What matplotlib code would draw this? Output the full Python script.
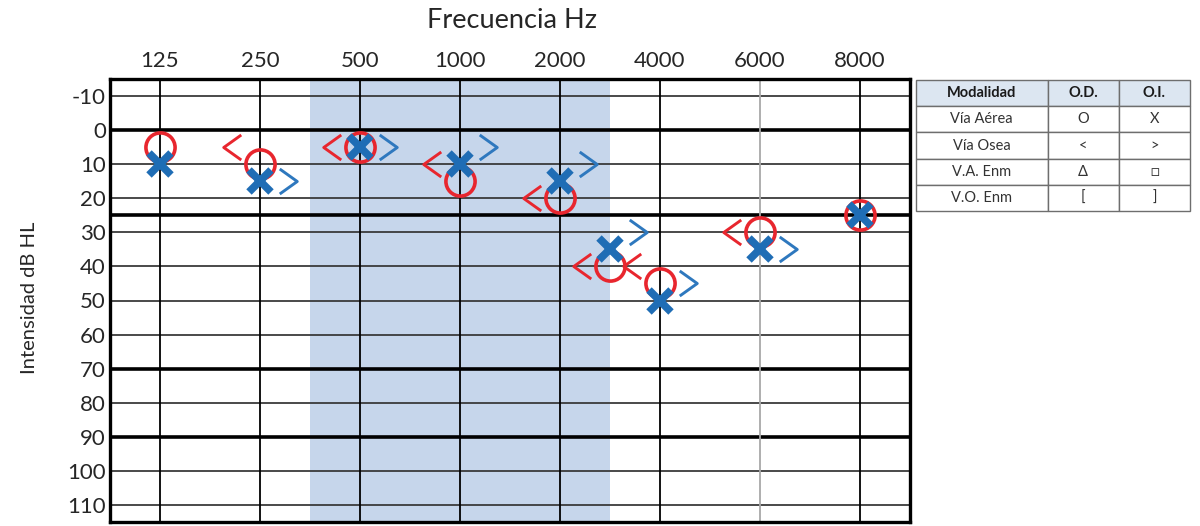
import numpy as np
import matplotlib
matplotlib.use("Agg")
import matplotlib.pyplot as plt
from matplotlib.path import Path

plt.rcParams['font.family'] = ['Lato', 'DejaVu Sans']

# audiogram values (dB HL)
freqs = [125, 250, 500, 1000, 2000, 3000, 4000, 6000, 8000]
tick_freqs = [125, 250, 500, 1000, 2000, 4000, 6000, 8000]
od_aerea = [5, 10, 5, 15, 20, 40, 45, 30, 25]
oi_aerea = [10, 15, 5, 10, 15, 35, 50, 35, 25]
od_osea = [np.nan, 5, 5, 10, 20, 40, 40, 30, np.nan]
oi_osea = [np.nan, 15, 5, 5, 10, 30, 45, 35, np.nan]
db_ticks = list(range(-10, 111, 10))
thick_levels = [0, 25, 70, 90]

table_cols = ['Modalidad', 'O.D.', 'O.I.']
table_rows = [['Vía Aérea', 'O', 'X'],
              ['Vía Osea', '<', '>'],
              ['V.A. Enm', 'Δ', '□'],
              ['V.O. Enm', '[', ']']]

# frequency -> column on the chart (3000 sits between 2000 and 4000)
col = {125: 0, 250: 1, 500: 2, 1000: 3, 2000: 4, 3000: 4.5, 4000: 5, 6000: 6, 8000: 7}
x = np.array([col[f] for f in freqs])

red = '#E8262E'
blue = '#1F6DB5'
blue2 = '#2E78BE'
txt = '#262626'

fig = plt.figure(figsize=(12, 5.26), dpi=100)
ax = fig.add_axes([110/1200, 1-522/526, 800/1200, 443/526])

ax.set_xlim(-0.5, 7.5)
ax.set_ylim(115, -15)
ax.axvspan(1.5, 4.5, color='#C6D6EB', zorder=0, lw=0)

for lvl in db_ticks:
    if lvl in thick_levels:
        continue
    ax.axhline(lvl, color='#3A3A3A', lw=1.3, zorder=1)
for lvl in thick_levels:
    ax.axhline(lvl, color='black', lw=2.6, zorder=1)
for f in tick_freqs:
    c = '#A8A8A8' if f == 6000 else 'black'
    ax.axvline(col[f], color=c, lw=1.3, zorder=1)

ax.set_xticks([col[f] for f in tick_freqs])
ax.set_xticklabels([str(f) for f in tick_freqs], fontsize=16, color=txt)
ax.xaxis.tick_top()
ax.tick_params(axis='x', length=0, pad=6)
ax.set_yticks(db_ticks)
ax.set_yticklabels([str(v) for v in db_ticks], fontsize=16, color=txt)
ax.tick_params(axis='y', length=0, pad=3)
for s in ax.spines.values():
    s.set_linewidth(2.4)
    s.set_color('black')

lt = Path([(0.35, 0.5), (-0.35, 0), (0.35, -0.5)], [Path.MOVETO, Path.LINETO, Path.LINETO])
gt = Path([(-0.35, 0.5), (0.35, 0), (-0.35, -0.5)], [Path.MOVETO, Path.LINETO, Path.LINETO])

ax.plot(x, od_aerea, ls='none', marker='o', ms=21, mfc='none', mec=red, mew=2.6, zorder=3)
ax.plot(x, oi_aerea, ls='none', marker='x', ms=16, mec=blue, mew=5.5, zorder=4)
ax.plot(x - 0.28, od_osea, ls='none', marker=lt, ms=18, mfc='none', mec=red, mew=2.1, zorder=5)
ax.plot(x + 0.28, oi_osea, ls='none', marker=gt, ms=18, mfc='none', mec=blue2, mew=2.1, zorder=5)

fig.text(512/1200, 1-21/526, 'Frecuencia Hz', ha='center', va='center', fontsize=19.5, color=txt)
fig.text(30/1200, 1-298/526, 'Intensidad dB HL', ha='center', va='center', rotation=90,
         fontsize=14.5, color=txt)

# legend table
tax = fig.add_axes([916/1200, 1-211/526, 274/1200, 131/526])
tax.axis('off')
tbl = tax.table(cellText=table_rows, colLabels=table_cols, cellLoc='center',
                colWidths=[0.48, 0.26, 0.26], bbox=[0, 0, 1, 1])
tbl.auto_set_font_size(False)
for (r, c), cell in tbl.get_celld().items():
    cell.set_edgecolor('#6E6E6E')
    cell.set_linewidth(1.0)
    cell.get_text().set_fontsize(10.5)
    cell.get_text().set_color('#333333')
    if r == 0:
        cell.set_facecolor('#DCE6F1')
        cell.get_text().set_fontweight('bold')
        cell.get_text().set_color('#1A1A1A')

fig.savefig('out.png', dpi=100)
